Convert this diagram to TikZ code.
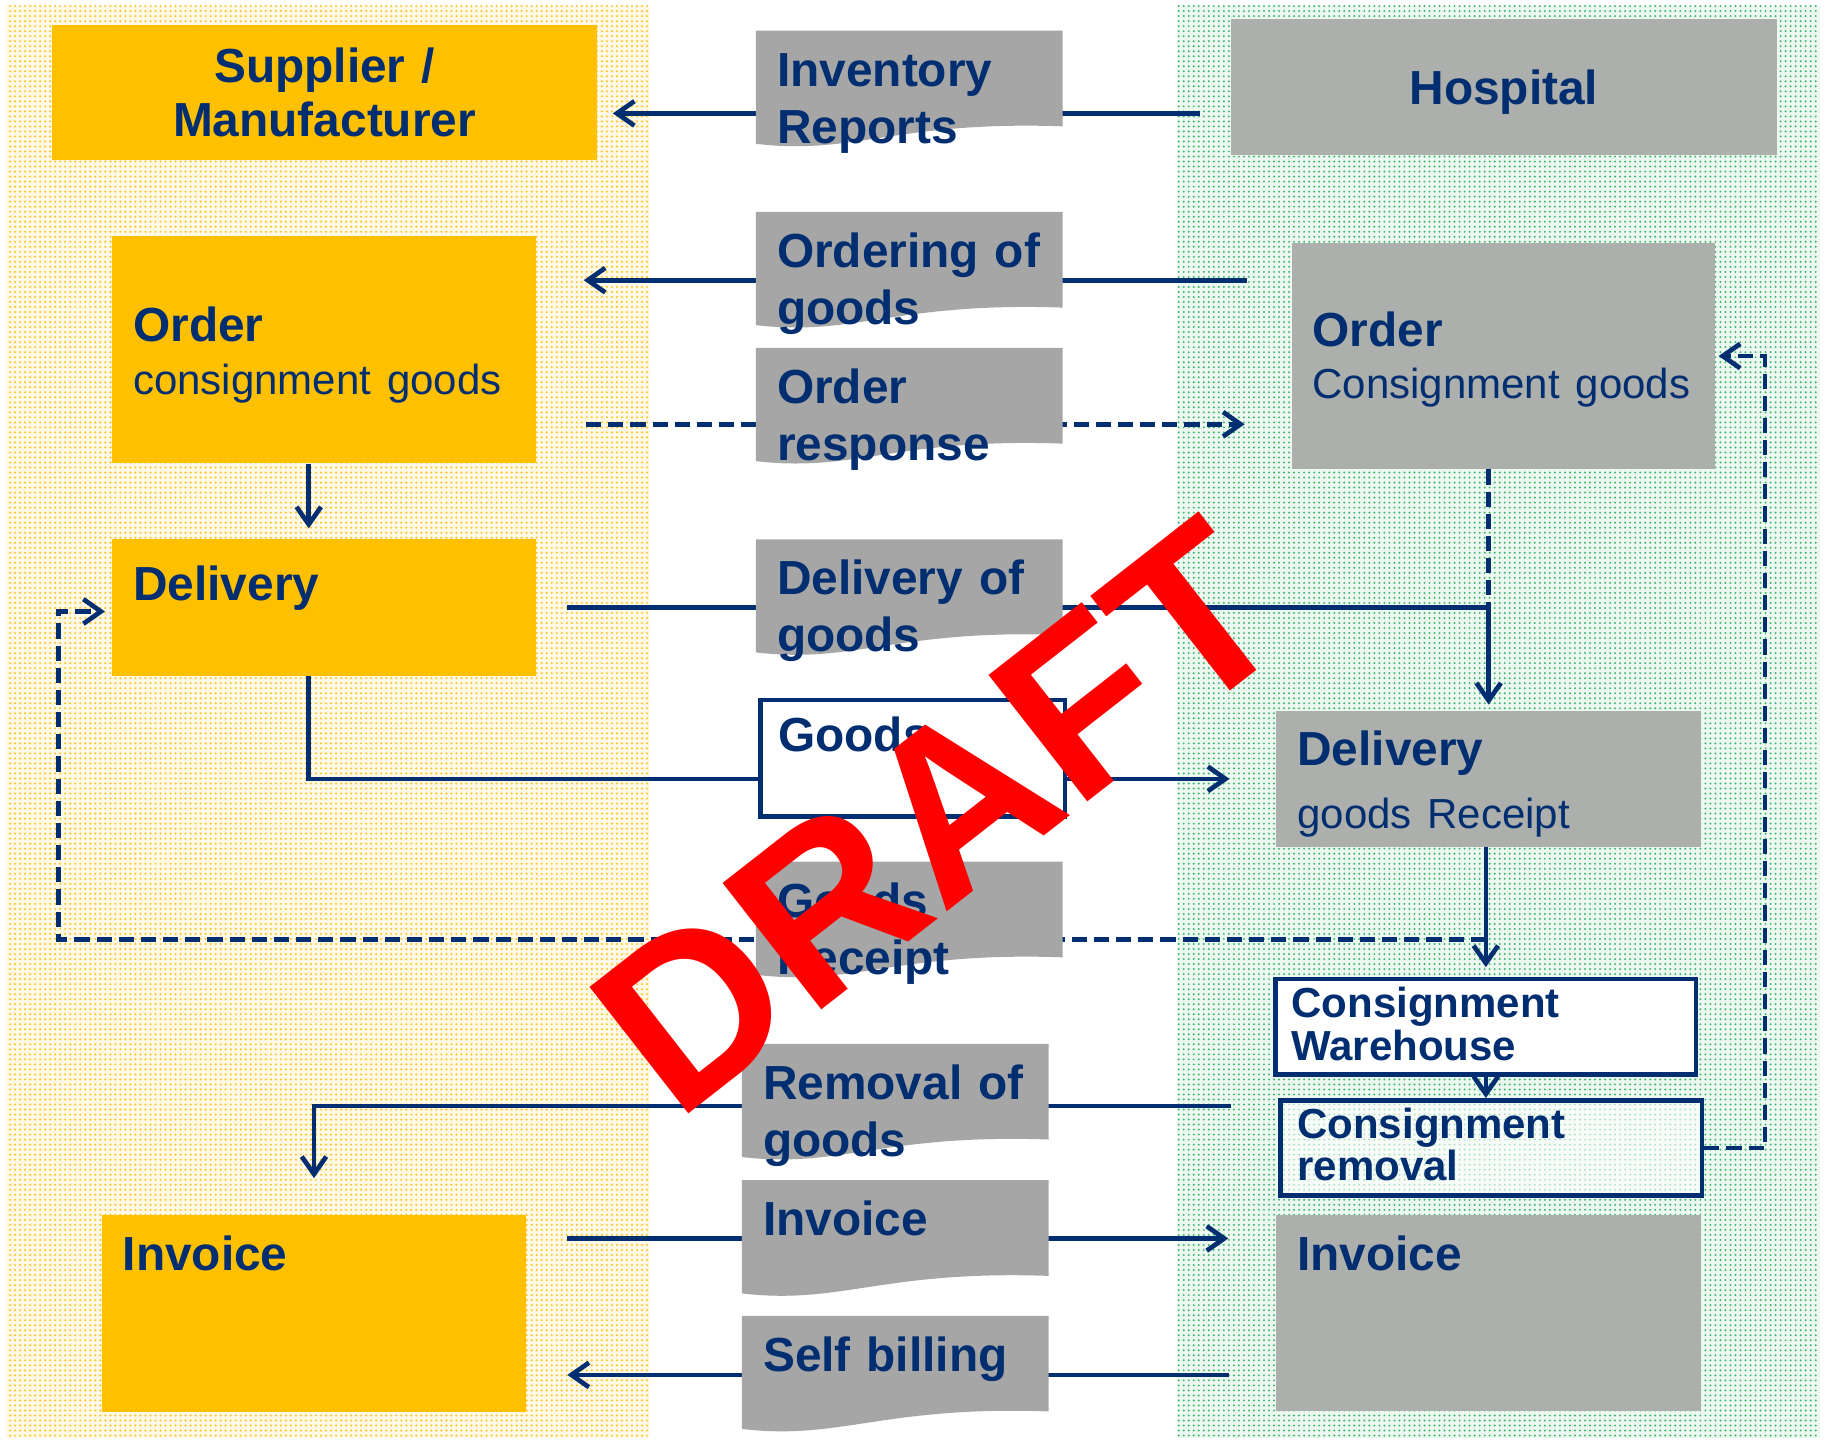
\documentclass[tikz,border=0pt]{standalone}
\usepackage{fontspec}
\setmainfont{Liberation Sans}
\usetikzlibrary{arrows.meta,calc,patterns.meta}

\definecolor{navy}{RGB}{0,46,112}
\definecolor{supyellow}{RGB}{255,192,0}
\definecolor{docgray}{RGB}{166,166,166}
\definecolor{hospgray}{RGB}{172,175,171}
\definecolor{paleyellow}{RGB}{255,249,232}
\definecolor{palegreen}{RGB}{236,248,240}
\definecolor{dotyellow}{RGB}{255,200,50}
\definecolor{dotgreen}{RGB}{60,185,110}

\newcommand{\lighttext}[1]{{\mdseries\fontsize{36}{40}\selectfont #1}}

\pgfdeclarelayer{back}
\pgfdeclarelayer{lines}
\pgfdeclarelayer{docs}
\pgfsetlayers{back,lines,docs,main}

\begin{document}
\begin{tikzpicture}[x=1pt,y=-1pt,
box/.style={rectangle,anchor=north west,inner sep=0pt,text=navy},
sup/.style={box,fill=supyellow},
hsp/.style={box,fill=hospgray},
frm/.style={box,draw=navy,line width=4pt,fill=white},
lbl/.style={anchor=base west,inner sep=0pt,text=navy,text width=330pt,align=left,font=\fontsize{41}{45}\selectfont\bfseries},
doc/.style={lbl,inner xsep=18pt,text width=240pt,font=\fontsize{41}{49}\selectfont\bfseries},
flow/.style={draw=navy,line width=4pt},
dflow/.style={flow,dash pattern=on 13pt off 6pt},
>={Straight Barb[length=15pt,width=21pt]}]

\useasboundingbox (0,0) rectangle (1568,1235);

% the two sides
\begin{pgfonlayer}{back}
\fill[white] (0,0) rectangle (1568,1235);
\fill[paleyellow] (5,5) rectangle (557,1233);
\fill[pattern={Dots[distance=4.3pt,radius=1.05pt]},pattern color=dotyellow] (5,5) rectangle (557,1233);
\fill[palegreen] (1009,5) rectangle (1560,1233);
\fill[pattern={Dots[distance=4.3pt,radius=0.95pt]},pattern color=dotgreen] (1009,5) rectangle (1560,1233);
\end{pgfonlayer}

% supplier
\node[sup,minimum width=468pt,minimum height=116pt,text width=440pt,align=center,font=\fontsize{41}{47}\selectfont\bfseries] (supp) at (44,21) {Supplier /\\Manufacturer};
\node[sup,minimum width=363pt,minimum height=195pt] (sord) at (96,202) {};
\node[sup,minimum width=363pt,minimum height=117pt] (sdel) at (96,462) {};
\node[sup,minimum width=364pt,minimum height=169pt] (sinv) at (87,1041) {};
\node[lbl,font=\fontsize{41}{45.6}\selectfont\bfseries] (sordT) at (114,293) {Order\\\lighttext{consignment goods}};
\node[lbl] (sdelT) at (114,514.4) {Delivery};
\node[lbl] (sinvT) at (105,1089.6) {Invoice};

% hospital
\node[hsp,minimum width=468pt,minimum height=117pt,text depth=0pt,font=\fontsize{41}{45}\selectfont\bfseries] (hosp) at (1055,16) {Hospital};
\node[hsp,minimum width=363pt,minimum height=194pt] (hord) at (1107,208) {};
\node[hsp,minimum width=364pt,minimum height=117pt] (hdel) at (1094,609) {};
\node[frm,minimum width=360.4pt,minimum height=81.8pt] (whse) at (1091.6,837.2) {};
\node[frm,minimum width=361.4pt,minimum height=81.8pt,fill opacity=0.6] (remv) at (1095.6,941.3) {};
\node[hsp,minimum width=364pt,minimum height=168pt] (hinv) at (1094,1041) {};
\node[lbl] (hordT) at (1125,297) {Order\\\lighttext{Consignment goods}};
\node[lbl,font=\fontsize{41}{54}\selectfont\bfseries] (hdelT) at (1112,656) {Delivery\\\lighttext{goods Receipt}};
\node[lbl,font=\fontsize{36}{37}\selectfont\bfseries] (whseT) at (1107,872) {Consignment\\Warehouse};
\node[lbl,font=\fontsize{36}{36}\selectfont\bfseries] (remvT) at (1112,975.6) {Consignment\\removal};
\node[lbl] (hinvT) at (1112,1089.6) {Invoice};

% documents in between
\node[doc] (inv) at (648,73.8) {Inventory\\Reports};
\node[doc] (ord) at (648,229.2) {Ordering of\\goods};
\node[doc] (resp) at (648,345.8) {Order\\response};
\node[doc] (dlv) at (648,509.8) {Delivery of\\goods};
\node[frm,minimum width=261pt,minimum height=100pt] (gbox) at (650,598) {};
\node[lbl] (gboxT) at (667,644) {Goods};
\node[doc] (grec) at (648,786.2) {Goods\\Receipt};
\node[doc] (rem) at (636,942.4) {Removal of\\goods};
\node[doc] (invd) at (636,1059.3) {Invoice};
\node[doc] (self) at (636,1175.5) {Self billing};

\begin{pgfonlayer}{docs}
\foreach \d in {inv,ord,resp,dlv,grec,rem,invd,self}
  \fill[docgray,shift={(\d.base west)}] (0,-47.5) -- (263,-47.5) -- (263,34.5)
    .. controls (120,29.5) and (85,59.5) .. (0,49.5) -- cycle;
\end{pgfonlayer}

% line levels
\coordinate (lvInv) at ($(supp.east)+(13,18)$);
\coordinate (lvOrd) at ($(sord.east)+(41,-59.5)$);
\coordinate (lvResp) at ($(sord.east)+(43,64)$);
\coordinate (lvRem) at ($(remv.west)+(-40,-36)$);
\coordinate (lvInvc) at ($(sinv.east)+(35,-64)$);
\coordinate (lvSelf) at ($(sinv.east)+(35,53)$);
\coordinate (grJ) at ($(whse.north)+(0,-31.5)$);

\begin{pgfonlayer}{lines}
\draw[flow,<-,shorten >=26pt] (lvInv) -- (lvInv -| hosp.west);
\draw[flow,<-,shorten >=38pt] (lvOrd) -- (lvOrd -| hord.west);
\draw[dflow,->,shorten >=40pt] (lvResp) -- (lvResp -| hord.west);
\draw[flow,->,shorten >=9pt] ([xshift=-13pt]sord.south) -- ([xshift=-13pt]sdel.north);
\draw[flow,->,shorten >=5pt] ([xshift=27pt]sdel.east) -| (hdel.north);
\draw[dflow] (hord.south -| hdel.north) -- (sdel.east -| hdel.north);
\draw[flow,->,shorten >=40pt] ([xshift=-13pt]sdel.south) |- (hdel.west);
\draw[flow,->,shorten >=8pt] (hdel.south -| whse.north) -- (whse.north);
\draw[dflow,->,shorten >=6pt] (grJ) -| ($(sdel.west)+(-46,3.5)$) -- ($(sdel.west)+(0,3.5)$);
\draw[flow,->] (whse.south) -- (whse.south |- remv.north);
\draw[dflow,->,shorten >=3pt] (remv.east) -- ([xshift=52pt]remv.east) |- (hord.east);
\draw[flow,->,shorten >=31pt] (lvRem) -| (sinv.north);
\draw[flow,->,shorten >=41pt] (lvInvc) -- (lvInvc -| hinv.west);
\draw[flow,<-,shorten >=40pt] (lvSelf) -- (lvSelf -| hinv.west);
\end{pgfonlayer}

% watermark
\node[rotate=38,inner sep=0pt,text=red,font=\fontsize{200}{200}\selectfont\bfseries] (draft) at (805,700) {DRAFT};
\end{tikzpicture}
\end{document}
